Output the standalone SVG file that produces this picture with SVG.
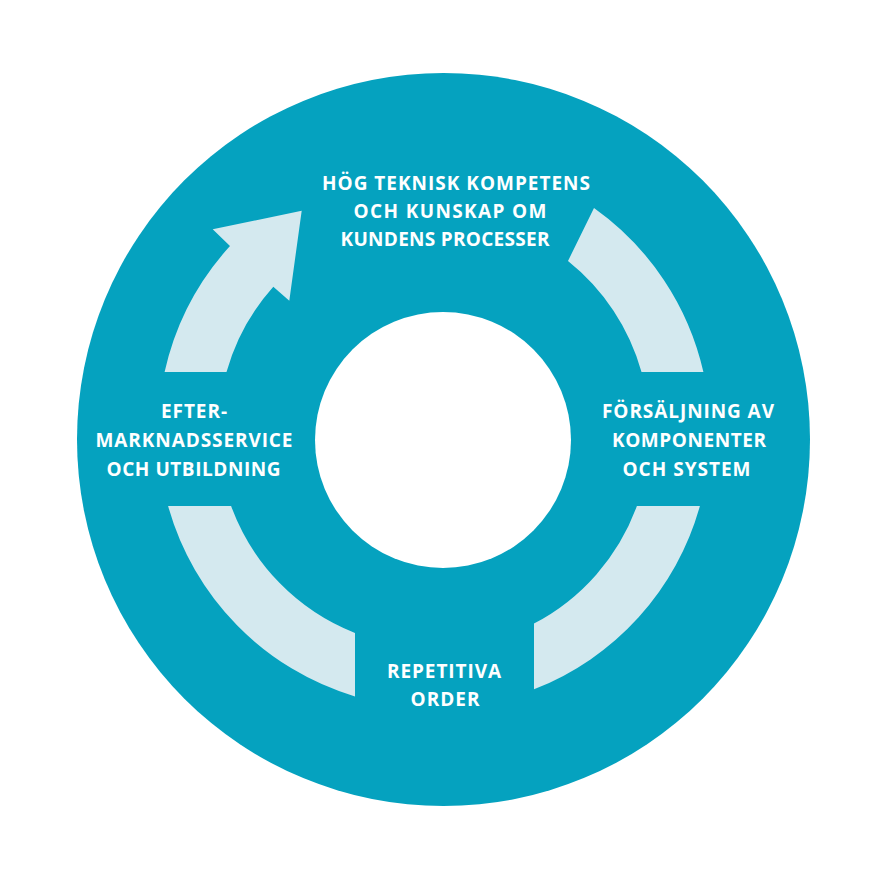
<svg xmlns="http://www.w3.org/2000/svg" width="886" height="886" viewBox="0 0 886 886">
  <style>
    .lbl { font-family: "Open Sans", "Noto Sans", "Liberation Sans", sans-serif; font-weight: bold; font-size: 19px; fill: #ffffff; text-anchor: middle; }
    .band { fill: #d4e9ef; }
  </style>
  <rect width="886" height="886" fill="#ffffff"/>
  <g id="disc">
    <circle cx="443.5" cy="439.5" r="366.5" fill="#05a2bf"/>
    <circle cx="443" cy="440" r="128" fill="#ffffff"/>
  </g>
  <g id="connectors">
    <path id="arrow-service-to-competence" class="band" d="M 164.6,372 A 276,276 0 0 1 230,246 L 212.7,229.3 L 301.7,210.7 L 289.3,300.7 L 273.3,286.7 A 216,216 0 0 0 226.5,372 Z"/>
    <path id="arc-competence-to-sales" class="band" d="M 568,261 L 594,208 A 276,276 0 0 1 703.4,372 L 641.5,372 A 216,216 0 0 0 568,261 Z"/>
    <path id="arc-sales-to-orders" class="band" d="M 636.9,506 L 699.9,506 A 276,276 0 0 1 534,689.3 L 534,623.5 A 216,216 0 0 0 636.9,506 Z"/>
    <path id="arc-orders-to-service" class="band" d="M 168.1,506 L 231.1,506 A 216,216 0 0 0 355,633 L 355,696.4 A 276,276 0 0 1 168.1,506 Z"/>
  </g>
  <g id="node-competence">
    <text class="lbl" x="456" y="189.5" textLength="268" lengthAdjust="spacing">HÖG TEKNISK KOMPETENS</text>
    <text class="lbl" x="450" y="217.5" textLength="193" lengthAdjust="spacing">OCH KUNSKAP OM</text>
    <text class="lbl" x="445" y="246" textLength="209" lengthAdjust="spacing">KUNDENS PROCESSER</text>
  </g>
  <g id="node-sales">
    <text class="lbl" x="688" y="418" textLength="172" lengthAdjust="spacing">FÖRSÄLJNING AV</text>
    <text class="lbl" x="689" y="447" textLength="154" lengthAdjust="spacing">KOMPONENTER</text>
    <text class="lbl" x="686.5" y="476" textLength="128" lengthAdjust="spacing">OCH SYSTEM</text>
  </g>
  <g id="node-orders">
    <text class="lbl" x="444" y="678" textLength="114" lengthAdjust="spacing">REPETITIVA</text>
    <text class="lbl" x="445" y="706" textLength="69" lengthAdjust="spacing">ORDER</text>
  </g>
  <g id="node-service">
    <text class="lbl" x="194" y="418" textLength="66" lengthAdjust="spacing">EFTER-</text>
    <text class="lbl" x="194" y="447" textLength="197" lengthAdjust="spacing">MARKNADSSERVICE</text>
    <text class="lbl" x="193.5" y="476" textLength="174" lengthAdjust="spacing">OCH UTBILDNING</text>
  </g>
</svg>
